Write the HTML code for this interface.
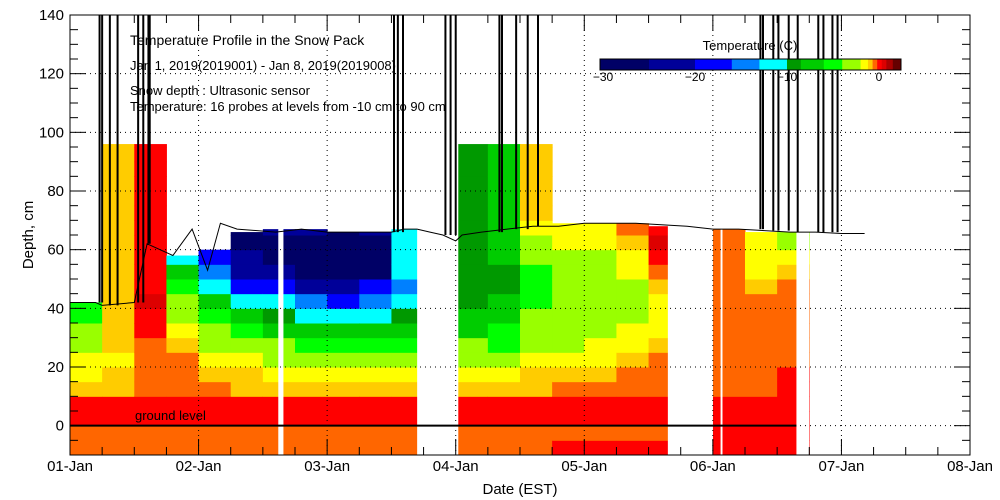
<!DOCTYPE html>
<html><head><meta charset="utf-8"><style>
body{margin:0;background:#fff;}
svg{display:block;font-family:"Liberation Sans",sans-serif;}
</style></head><body>
<svg id="chart" width="1000" height="500" viewBox="0 0 1000 500" xmlns="http://www.w3.org/2000/svg">
<g id="cells"></g>
<g id="gaps"></g>
<g id="grid"></g>
<g id="lines"></g>
<g id="axes"></g>
<g id="legend"></g>
<g font-size="13" fill="#000">
<text x="130" y="45" font-size="14">Temperature Profile in the Snow Pack</text>
<text x="130" y="70">Jan  1, 2019(2019001) - Jan  8, 2019(2019008)</text>
<text x="130" y="95">Snow depth : Ultrasonic sensor</text>
<text x="130" y="111">Temperature: 16 probes at levels from -10 cm to 90 cm</text>
</g>
</svg>
<script>
// ---- data ----
const colWidthDays = 0.25;
const rowBase = -10, rowStep = 5;
const snowDepth = [42,42,62,58,60,66,67,67,66,66,67,null,66,67,68,69,69,69,68,null,67,66,66];
const probeTop = [null,96,96,null,null,null,null,null,null,null,null,null,96,96,96,null,null,null,null,null,null,null,null];
const col0 = [-0.3,-0.4,0,0,-1.1,-1.5,-1.8,-2.5,-3.5,-4.5];
const col1 = [-0.3,-0.4,0,0,-0.9,-1.2,-1.3,-1.2,-1.0,-1.0,-1.0];
const col2 = [-0.3,-0.4,0,0,-0.4,-0.4,-0.4,-0.3,-0.1,0.1,0.6,0.2,0];
const col3 = [-0.3,-0.4,0,0,-0.4,-0.5,-0.6,-1.0,-1.6,-2.5,-3.5,-5,-8,-12];
const col4 = [-0.3,-0.4,0,0,-0.6,-1.0,-1.5,-2.2,-3,-4.5,-7,-11,-15,-18];
const col5 = [-0.3,-0.4,0,0,-0.8,-1.1,-1.8,-3,-5,-8,-11,-17,-22,-25,-26];
const col6 = [-0.3,-0.4,0,0,-0.9,-1.5,-2.5,-4,-7,-9.5,-12,-18,-24,-27,-27,-24];
const col7 = [-0.3,-0.4,0,0,-1.0,-1.6,-2.5,-5,-8,-11,-16,-21,-27,-28,-28,-25];
const col8 = [-0.3,-0.4,0,0,-1.0,-1.6,-2.5,-5,-8,-11,-17,-22,-28,-28,-28,-26];
const col9 = [-0.3,-0.4,0,0,-1.0,-1.6,-2.7,-5,-8,-11,-15,-20,-26,-27,-26,-22];
const col10 = [-0.3,-0.4,0,0,-1.0,-1.5,-2.5,-5,-8,-10,-12,-14,-12.5,-12.5,-12,-11];
const col11 = [];
const col12 = [-0.3,-0.4,0,0,-1.2,-1.6,-2.2,-3,-6.5,-8,-9,-9.5,-9.5,-9.5,-9.5,-9.5];
const col13 = [-0.3,-0.4,0,0,-1.1,-1.5,-2.5,-4.5,-5.5,-7,-8,-8.8,-9,-8,-7.5,-7,-7];
const col14 = [-0.3,-0.4,0,0,-0.8,-1.2,-1.7,-2.5,-3.2,-4,-4.5,-4.5,-4.5,-3.5,-2.5,-2,-1.0];
const col15 = [-0.1,-0.4,0,0,-0.6,-1.0,-1.6,-2.2,-2.6,-3,-3,-3,-2.8,-2.4,-1.8,-1.5];
const col16 = [-0.1,-0.4,0,0,-0.5,-0.8,-1.3,-1.8,-2.3,-2.6,-2.8,-2.8,-2.6,-2.3,-1.8,-1.4];
const col17 = [-0.1,-0.4,0,0,-0.4,-0.6,-0.9,-1.4,-1.8,-2.2,-2.4,-2.2,-1.8,-1.4,-1.0,-0.5];
const col18 = [-0.1,-0.4,0,0,-0.3,-0.4,-0.6,-0.9,-1.3,-1.6,-1.4,-1.0,-0.5,-0.1,0.4,0.2];
const col19 = [];
const col20 = [-0.1,-0.1,0,0,-0.3,-0.4,-0.4,-0.4,-0.4,-0.4,-0.4,-0.4,-0.4,-0.4,-0.4,-0.4];
const col21 = [-0.1,-0.1,0,0,-0.3,-0.3,-0.4,-0.4,-0.5,-0.5,-0.5,-0.9,-1.3,-1.6,-1.6,-1.6];
const col22 = [-0.1,-0.1,0,0,-0.1,-0.1,-0.3,-0.4,-0.4,-0.4,-0.5,-0.6,-1.0,-1.6,-3,-3];
const temps = [col0,col1,col2,col3,col4,col5,col6,col7,col8,col9,col10,col11,col12,col13,col14,col15,col16,col17,col18,col19,col20,col21,col22];
const gapStart = [1.62,2.70,4.65,5.06,5.65];
const gapEnd   = [1.66,3.02,5.00,5.075,5.75];
const depthT = [0,0.2,0.25,0.5,0.6,0.8,0.95,1.07,1.17,1.3,1.6,1.8,2.0,2.3,2.5,2.6,2.7,2.8,2.9,3.0,3.05,3.2,3.4,3.6,3.8,4.0,4.2,4.4,4.6,4.8,5.0,5.2,5.4,5.6,5.8,6.0,6.18];
const depthV = [42,42,41,42,62,58,67,53,69,67,66,67,66,66,66,67,67,66,65,63,65,66,67,68,68,69,69,69,68.5,68,67,67,66.5,66,66,65.5,65.5];
const spikeT = [0.23,0.25,0.31,0.37,0.53,0.57,0.61,0.62,2.52,2.55,2.59,2.92,2.96,3.0,3.34,3.36,3.47,3.56,3.64,5.37,5.39,5.47,5.51,5.59,5.66,5.82,5.86,5.93,5.97];
const yTicks = [140,120,100,80,60,40,20,0];
const xTickLabels = ["01-Jan","02-Jan","03-Jan","04-Jan","05-Jan","06-Jan","07-Jan","08-Jan"];
const legendBounds = [-30.4,-25,-20,-16,-13,-10,-8.5,-6,-4,-2,-1.2,-0.7,-0.2,0.3,0.8,1.5,2.4];
const legendColors = ["#000066","#000099","#0000ff","#0080ff","#00ffff","#009900","#00cc00","#00ff00","#99ff00","#ffff00","#ffcc00","#ff6600","#ff0000","#dd0000","#aa0000","#660000"];
const legendTicks = [-30,-20,-10,0];

// ---- scales ----
const X0=70, X1=970, Y0=15, Y1=455;
const x = t => X0 + (X1-X0)*t/7;
const y = v => Y1 - (Y1-Y0)*(v+10)/150;
const lx = T => 879 + 9.2*T;
function color(T){ for(let i=0;i<legendColors.length;i++){ if(T<legendBounds[i+1]) return legendColors[i]; } return legendColors[legendColors.length-1]; }
const NS="http://www.w3.org/2000/svg";
function mk(tag,parent,attrs){const e=document.createElementNS(NS,tag);for(const k in attrs)e.setAttribute(k,attrs[k]);parent.appendChild(e);return e;}

// ---- cells ----
const gc=document.getElementById('cells');
temps.forEach((col,i)=>{
  if(!col.length) return;
  const lim = probeTop[i]!==null ? probeTop[i] : snowDepth[i];
  const nRows = Math.ceil((lim-rowBase)/rowStep);
  for(let j=0;j<nRows;j++){
    const b=rowBase+j*rowStep, tp=Math.min(b+rowStep,lim);
    const T = col[Math.min(j,col.length-1)];
    const r=mk('rect',gc,{x:x(i*colWidthDays),y:y(tp),width:x((i+1)*colWidthDays)-x(i*colWidthDays)+0.5,height:y(b)-y(tp)+0.5,fill:color(T)});
    
    
  }
});
const gg=document.getElementById('gaps');
gapStart.forEach((s,i)=>{
  const r=mk('rect',gg,{x:x(s),y:Y0,width:x(gapEnd[i])-x(s),height:Y1-Y0,fill:'#fff'});
  
  
});

// ---- grid ----
const gr=document.getElementById('grid');
yTicks.forEach(v=>{ if(v===140)return; const l=mk('line',gr,{x1:X0,x2:X1,y1:y(v),y2:y(v),stroke:'#000','stroke-width':1,'stroke-dasharray':'1,4'});
    });
xTickLabels.forEach((s,i)=>{ if(i===0||i===7)return; const l=mk('line',gr,{x1:x(i),x2:x(i),y1:Y0,y2:Y1,stroke:'#000','stroke-width':1,'stroke-dasharray':'1,4'});
    });

// ---- depth line + spikes ----
const gl=document.getElementById('lines');
const pts=depthT.map((t,i)=>x(t).toFixed(1)+','+y(depthV[i]).toFixed(1)).join(' ');
const pl=mk('polyline',gl,{points:pts,fill:'none',stroke:'#000','stroke-width':1});


spikeT.forEach(t=>{
  let k=0; while(k<depthT.length-1 && depthT[k+1]<t) k++;
  const l=mk('line',gl,{x1:x(t),x2:x(t),y1:y(depthV[k]),y2:Y0,stroke:'#000','stroke-width':2});
  
  
});
const gline=mk('line',gl,{x1:X0,x2:x(5.65),y1:y(0),y2:y(0),stroke:'#000','stroke-width':2});


const gt=mk('text',gl,{x:135,y:420,'font-size':13});
gt.textContent='ground level';



// ---- axes ----
const ga=document.getElementById('axes');
const frame=mk('rect',ga,{x:X0,y:Y0,width:X1-X0,height:Y1-Y0,fill:'none',stroke:'#000','stroke-width':1});


for(let v=-10; v<=140; v+=5){
  const len = v%20===0?16:8;
  mk('line',ga,{x1:X0,x2:X0+len,y1:y(v),y2:y(v),stroke:'#000'});
  mk('line',ga,{x1:X1-len,x2:X1,y1:y(v),y2:y(v),stroke:'#000'});
}
for(let t=0;t<=7;t+=0.25){
  const len = (t%1===0)?16:8;
  mk('line',ga,{x1:x(t),x2:x(t),y1:Y1,y2:Y1-len,stroke:'#000'});
  mk('line',ga,{x1:x(t),x2:x(t),y1:Y0,y2:Y0+len,stroke:'#000'});
}
yTicks.forEach(v=>{
  const t=mk('text',ga,{x:X0-6,y:y(v)+5,'text-anchor':'end','font-size':15});
  t.textContent=v;
  
  
});
xTickLabels.forEach((s,i)=>{
  const t=mk('text',ga,{x:x(i),y:471,'text-anchor':'middle','font-size':15});
  t.textContent=s;
  
  
});
const xt=mk('text',ga,{x:520,y:494,'text-anchor':'middle','font-size':15});
xt.textContent='Date (EST)';


const yt=mk('text',ga,{x:33,y:235,'text-anchor':'middle','font-size':15,transform:'rotate(-90 33 235)'});
yt.textContent='Depth, cm';



// ---- legend ----
const lg=document.getElementById('legend');
legendColors.forEach((c,i)=>{
  const a=Math.max(lx(legendBounds[i]),600), b=Math.min(lx(legendBounds[i+1]),901);
  const r=mk('rect',lg,{x:a,y:59,width:b-a+0.3,height:11,fill:c});
  
  
});
mk('rect',lg,{x:600,y:59,width:301,height:11,fill:'none',stroke:'#000'});
legendTicks.forEach(v=>{
  const t=mk('text',lg,{x:lx(v),y:81,'text-anchor':'middle','font-size':12});
  t.textContent=(v<0?'\u2212':'')+Math.abs(v);
  
  
});
const lt=mk('text',lg,{x:750,y:50,'text-anchor':'middle','font-size':13});
lt.textContent='Temperature (C)';


</script>
</body></html>
